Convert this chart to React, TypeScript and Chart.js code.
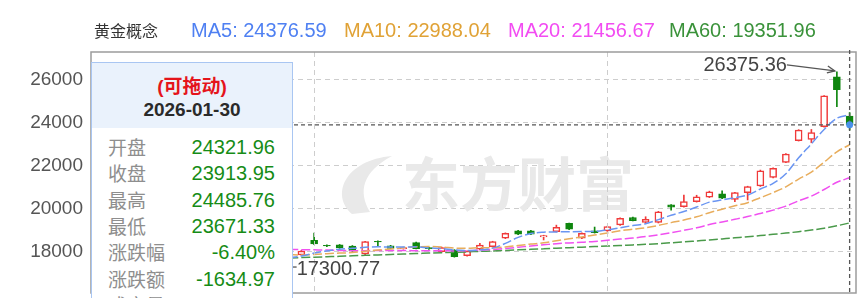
import React, { useEffect, useRef } from 'react';
import { Chart, registerables } from 'chart.js';

Chart.register(...registerables);

const dates = [
  '2025-11-06', '2025-11-07', '2025-11-10', '2025-11-11', '2025-11-12', '2025-11-13', '2025-11-14',
  '2025-11-17', '2025-11-18', '2025-11-19', '2025-11-20', '2025-11-21', '2025-11-24', '2025-11-25',
  '2025-11-26', '2025-11-27', '2025-11-28',
  '2025-12-01', '2025-12-02', '2025-12-03', '2025-12-04', '2025-12-05', '2025-12-08', '2025-12-09',
  '2025-12-10', '2025-12-11', '2025-12-12', '2025-12-15', '2025-12-16', '2025-12-17', '2025-12-18',
  '2025-12-19', '2025-12-22', '2025-12-23', '2025-12-24', '2025-12-25', '2025-12-26', '2025-12-29',
  '2025-12-30', '2025-12-31',
  '2026-01-05', '2026-01-06', '2026-01-07', '2026-01-08', '2026-01-09', '2026-01-12', '2026-01-13',
  '2026-01-14', '2026-01-15', '2026-01-16', '2026-01-19', '2026-01-20', '2026-01-21', '2026-01-22',
  '2026-01-23', '2026-01-26', '2026-01-27', '2026-01-28', '2026-01-29', '2026-01-30',
];

const opens = [
  18300, 18360, 18410, 18240, 18310, 18170, 18270, 18290, 18090, 17960,
  17870, 17860, 17800, 17890, 17740, 17600, 17860, 18540, 18310, 18330,
  18280, 17907, 18500, 18290, 18150, 18440, 18200, 18014, 18093, 17830,
  18130, 18250, 18640, 18990, 18990, 18700, 18950, 19330, 18640, 18990,
  18980, 19260, 19600, 19370, 19370, 20190, 20110, 20340, 20550, 20700,
  20450, 20760, 21070, 21470, 22170, 23180, 23240, 23830, 26150, 24321.96,
];

const closes = [
  18350, 18420, 18250, 18300, 18180, 18260, 18280, 18100, 17950, 17880,
  17850, 17810, 17900, 17750, 17620, 17690, 18047, 18372, 18280, 18190,
  18050, 18480, 18470, 18170, 18200, 18160, 18150, 18200, 17780, 18047,
  18320, 18480, 18870, 18830, 18830, 18760, 19150, 19060, 18870, 18900,
  19180, 19570, 19460, 19520, 19870, 20080, 20340, 20570, 20800, 20500,
  20760, 21040, 21780, 21890, 22560, 23670, 23550, 25260, 25548.92, 23913.95,
];

const highs = [
  18420, 18480, 18440, 18360, 18330, 18300, 18350, 18310, 18120, 18000,
  17930, 17900, 17960, 17920, 17780, 17720, 18080, 18884, 18330, 18350,
  18300, 18500, 18520, 18310, 18230, 18460, 18220, 18230, 18110, 18060,
  18400, 18500, 18890, 19010, 19010, 18780, 19250, 19350, 18890, 19160,
  19200, 19590, 19620, 19640, 19890, 20210, 20650, 20640, 20830, 20850,
  20780, 21060, 21810, 21910, 22580, 23690, 23700, 25280, 26375.36, 24485.76,
];

const lows = [
  18250, 18310, 18200, 18190, 18120, 18110, 18200, 18050, 17900, 17820,
  17780, 17740, 17760, 17700, 17560, 17300.77, 17840, 18340, 18250, 18170,
  18020, 17880, 18280, 18150, 18130, 18140, 18120, 17990, 17760, 17810,
  18100, 18230, 18620, 18810, 18810, 18560, 18930, 19040, 18620, 18880,
  18960, 19240, 19440, 19350, 19350, 19950, 20090, 20320, 20530, 20480,
  20340, 20420, 21050, 21450, 22150, 23160, 23080, 23810, 24760, 23671.33,
];

const ma5 = [
  18200, 18260, 18300, 18310, 18300, 18282, 18254, 18224, 18154, 18094,
  18012, 17918, 17878, 17838, 17786, 17754, 17810, 17950, 18050, 18130,
  18170, 18220, 18240, 18230, 18230, 18240, 18190, 18160, 18095, 18068,
  18096, 18180, 18400, 18680, 18860, 18920, 18935, 18945, 18950, 18955,
  19030, 19130, 19230, 19315, 19505, 19710, 19880, 20090, 20320, 20420,
  20530, 20650, 20930, 21195, 21640, 22380, 23030, 23700, 24220, 24376.59,
];

const ma10 = [
  18050, 18080, 18110, 18140, 18170, 18190, 18210, 18215, 18210, 18197,
  18147, 18086, 18051, 17996, 17940, 17883, 17860, 17887, 17920, 17951,
  17971, 18038, 18095, 18137, 18195, 18242, 18252, 18235, 18185, 18171,
  18198, 18198, 18238, 18304, 18367, 18427, 18527, 18613, 18700, 18790,
  18880, 18990, 19061, 19130, 19234, 19366, 19485, 19636, 19829, 19989,
  20147, 20294, 20526, 20763, 21032, 21391, 21712, 22181, 22656, 22988.04,
];

const ma20 = [
  17900, 17930, 17960, 17990, 18020, 18050, 18080, 18100, 18115, 18125,
  18130, 18135, 18135, 18130, 18125, 18120, 18110, 18100, 18090, 18074,
  18059, 18062, 18073, 18066, 18067, 18062, 18056, 18061, 18052, 18061,
  18084, 18118, 18166, 18220, 18281, 18334, 18389, 18424, 18453, 18489,
  18545, 18600, 18649, 18717, 18800, 18896, 19006, 19124, 19275, 19398,
  19520, 19648, 19794, 19947, 20133, 20378, 20599, 20908, 21242, 21456.67,
];

const ma60 = [
  17450, 17470, 17490, 17510, 17530, 17550, 17570, 17590, 17605, 17620,
  17640, 17655, 17670, 17685, 17700, 17720, 17740, 17760, 17780, 17800,
  17825, 17845, 17865, 17885, 17905, 17925, 17950, 17970, 17985, 18005,
  18030, 18050, 18075, 18100, 18125, 18150, 18175, 18200, 18225, 18250,
  18275, 18300, 18330, 18355, 18390, 18430, 18470, 18515, 18560, 18610,
  18660, 18710, 18765, 18820, 18880, 18945, 19020, 19105, 19220, 19351.96,
];

const yTicks = [18000, 20000, 22000, 24000, 26000];
const Y_MIN = 16093;
const Y_MAX = 27302;

const seriesName = '黄金概念';
const maNames = ['MA5', 'MA10', 'MA20', 'MA60'];
const maValues = ['24376.59', '22988.04', '21456.67', '19351.96'];
const maTextColors = ['#4f80f2', '#e0a236', '#f24cf2', '#3a923a'];
const maLineColors = ['#6a95f2', '#e8ad5c', '#f050f0', '#4a9a4a'];

const tipTitle = '(可拖动)';
const tipDate = '2026-01-30';
const tipLabels = ['开盘', '收盘', '最高', '最低', '涨跌幅', '涨跌额', '成交量'];
const tipValues = ['24321.96', '23913.95', '24485.76', '23671.33', '-6.40%', '-1634.97', '41256380'];

const LATIN = "'Liberation Sans', Arial, 'Noto Sans CJK SC', sans-serif";
const CJK = "'Noto Sans CJK SC', 'Liberation Sans', sans-serif";

const UP = '#f03a3a';
const DOWN = '#0e860e';

const isMonthStart = (i: number) =>
  i > 0 && dates[i].slice(5, 7) !== dates[i - 1].slice(5, 7);

const overlayPlugin = {
  id: 'overlay',
  beforeDatasetsDraw(chart: any) {
    const { ctx } = chart;
    ctx.save();
    ctx.fillStyle = '#e9e9e9';
    // logo swoosh
    ctx.beginPath();
    ctx.moveTo(352, 214);
    ctx.bezierCurveTo(330, 195, 345, 160, 392, 156);
    ctx.bezierCurveTo(362, 172, 358, 192, 370, 212);
    ctx.closePath();
    ctx.fill();
    ctx.font = `bold 58px ${CJK}`;
    ctx.textBaseline = 'middle';
    ctx.textAlign = 'left';
    ctx.fillText('东方财富', 402, 184);
    ctx.restore();
  },
  afterDatasetsDraw(chart: any) {
    const { ctx, chartArea: a, scales } = chart;
    const x = scales.x;
    const y = scales.y;
    ctx.save();
    // month grid lines
    ctx.strokeStyle = '#cdcdcd';
    ctx.lineWidth = 1;
    ctx.setLineDash([5, 4]);
    dates.forEach((_, i) => {
      if (!isMonthStart(i)) return;
      const gx = Math.round(x.getPixelForValue(i)) + 0.5;
      ctx.beginPath();
      ctx.moveTo(gx, a.top);
      ctx.lineTo(gx, a.bottom);
      ctx.stroke();
    });
    ctx.setLineDash([]);

    // frame
    ctx.strokeStyle = '#9c9c9c';
    ctx.lineWidth = 1.5;
    ctx.strokeRect(a.left, a.top, a.right - a.left, a.bottom - a.top);

    // crosshair on last candle
    const li = closes.length - 1;
    const cx = x.getPixelForValue(li);
    const cy = y.getPixelForValue(closes[li]);
    ctx.strokeStyle = '#555';
    ctx.lineWidth = 1.3;
    ctx.setLineDash([4, 3]);
    ctx.beginPath();
    ctx.moveTo(a.left, cy);
    ctx.lineTo(a.right, cy);
    ctx.moveTo(cx, a.top - 2);
    ctx.lineTo(cx, a.bottom);
    ctx.stroke();
    ctx.setLineDash([]);
    ctx.fillStyle = '#4a90ea';
    ctx.beginPath();
    ctx.arc(cx, cy, 3.5, 0, Math.PI * 2);
    ctx.fill();

    // max / min markers
    let hi = 0;
    let lo = 0;
    highs.forEach((v, i) => { if (v > highs[hi]) hi = i; });
    lows.forEach((v, i) => { if (v < lows[lo]) lo = i; });
    const hx = x.getPixelForValue(hi);
    const hy = y.getPixelForValue(highs[hi]);
    ctx.font = `20px ${LATIN}`;
    ctx.fillStyle = '#444';
    ctx.textBaseline = 'middle';
    ctx.textAlign = 'right';
    ctx.fillText(highs[hi].toFixed(2), hx - 50, hy - 6);
    ctx.strokeStyle = '#555';
    ctx.lineWidth = 1.3;
    ctx.beginPath();
    ctx.moveTo(hx - 50, hy - 7);
    ctx.lineTo(hx - 2, hy - 1);
    ctx.stroke();
    ctx.beginPath();
    ctx.moveTo(hx - 9, hy - 6);
    ctx.lineTo(hx - 2, hy - 1);
    ctx.lineTo(hx - 10, hy + 1);
    ctx.stroke();

    const lx = x.getPixelForValue(lo);
    const ly = y.getPixelForValue(lows[lo]);
    ctx.beginPath();
    ctx.moveTo(lx + 1, ly);
    ctx.lineTo(lx + 8, ly);
    ctx.stroke();
    ctx.textAlign = 'left';
    ctx.fillText(lows[lo].toFixed(2), lx + 8, ly + 2);
    ctx.restore();
  },
};

export default function App() {
  const ref = useRef<HTMLCanvasElement>(null);

  useEffect(() => {
    const bodies = dates.map((_, i) => [opens[i], closes[i]]);
    const wicks = dates.map((_, i) => [lows[i], highs[i]]);
    const isUp = dates.map((_, i) => closes[i] >= opens[i]);
    const maData = [ma5, ma10, ma20, ma60];

    const chart = new Chart(ref.current as HTMLCanvasElement, {
      type: 'bar',
      data: {
        labels: dates,
        datasets: [
          ...maNames.map((n, k) => ({
            type: 'line' as const,
            label: n,
            data: maData[k],
            borderColor: maLineColors[k],
            borderWidth: 1.5,
            borderDash: [9, 3],
            pointRadius: 0,
            cubicInterpolationMode: 'monotone' as const,
            order: 0,
          })),
          {
            type: 'bar' as const,
            label: 'body',
            data: bodies as any,
            backgroundColor: isUp.map((u) => (u ? '#ffffff' : DOWN)),
            borderColor: isUp.map((u) => (u ? UP : DOWN)),
            borderWidth: 1.5,
            borderSkipped: false,
            barThickness: 7,
            grouped: false,
            order: 1,
          },
          {
            type: 'bar' as const,
            label: 'wick',
            data: wicks as any,
            backgroundColor: isUp.map((u) => (u ? UP : DOWN)),
            borderWidth: 0,
            barThickness: 1,
            grouped: false,
            order: 2,
          },
        ],
      },
      options: {
        animation: false,
        responsive: false,
        devicePixelRatio: 1,
        layout: { padding: { left: 0, top: 52, right: 10, bottom: 5 } },
        plugins: { legend: { display: false }, tooltip: { enabled: false } },
        scales: {
          x: {
            type: 'category',
            offset: true,
            display: false,
          },
          y: {
            min: Y_MIN,
            max: Y_MAX,
            afterBuildTicks: (s: any) => { s.ticks = yTicks.map((v) => ({ value: v })); },
            afterFit: (s: any) => {
              s.width = 91;
              s.paddingTop = 0;
              s.paddingBottom = 0;
            },
            grid: { drawTicks: false, color: '#cdcdcd', lineWidth: 1 },
            border: { display: false, dash: [5, 4] },
            ticks: {
              padding: 8,
              color: '#555',
              font: { size: 19, family: LATIN },
              callback: (v: any) => String(v),
            },
          },
        },
      } as any,
      plugins: [overlayPlugin],
    });
    return () => chart.destroy();
  }, []);

  const maLeft = [191, 344, 508, 669];

  return (
    <div style={{ position: 'absolute', left: 0, top: 0, width: 866, height: 298, overflow: 'hidden', background: '#fff' }}>
      <canvas ref={ref} width={866} height={298} style={{ position: 'absolute', left: 0, top: 0, width: 866, height: 298 }} />
      <div style={{ position: 'absolute', left: 94, top: 19, lineHeight: '22px', fontSize: 16, fontFamily: CJK, color: '#333', whiteSpace: 'nowrap' }}>
        {seriesName}
      </div>
      {maNames.map((n, k) => (
        <div key={n} style={{ position: 'absolute', left: maLeft[k], top: 19, lineHeight: '22px', fontSize: 20, fontFamily: LATIN, color: maTextColors[k], whiteSpace: 'nowrap' }}>
          {n}: {maValues[k]}
        </div>
      ))}
      <div style={{ position: 'absolute', left: 91, top: 62, width: 202, height: 260, boxSizing: 'border-box', border: '1px solid #a9c6f2', background: '#fff' }}>
        <div style={{ position: 'relative', height: 65, background: '#eaf2fc' }}>
          <div style={{ position: 'absolute', left: 0, right: 0, top: 12, lineHeight: '24px', textAlign: 'center', color: '#e5141b', fontWeight: 'bold', fontSize: 19, fontFamily: LATIN }}>
            {tipTitle}
          </div>
          <div style={{ position: 'absolute', left: 0, right: 0, top: 35, lineHeight: '24px', textAlign: 'center', color: '#2a2a2a', fontWeight: 'bold', fontSize: 19, fontFamily: LATIN }}>
            {tipDate}
          </div>
        </div>
        {tipLabels.map((l, k) => (
          <div key={l} style={{ position: 'absolute', left: 0, right: 0, top: 71 + k * 26.3, height: 26, lineHeight: '26px' }}>
            <span style={{ position: 'absolute', left: 16, fontSize: 19, fontFamily: CJK, color: '#8e8e8e' }}>{l}</span>
            <span style={{ position: 'absolute', right: 17, fontSize: 20, fontFamily: LATIN, color: '#168c16' }}>{tipValues[k]}</span>
          </div>
        ))}
      </div>
    </div>
  );
}
